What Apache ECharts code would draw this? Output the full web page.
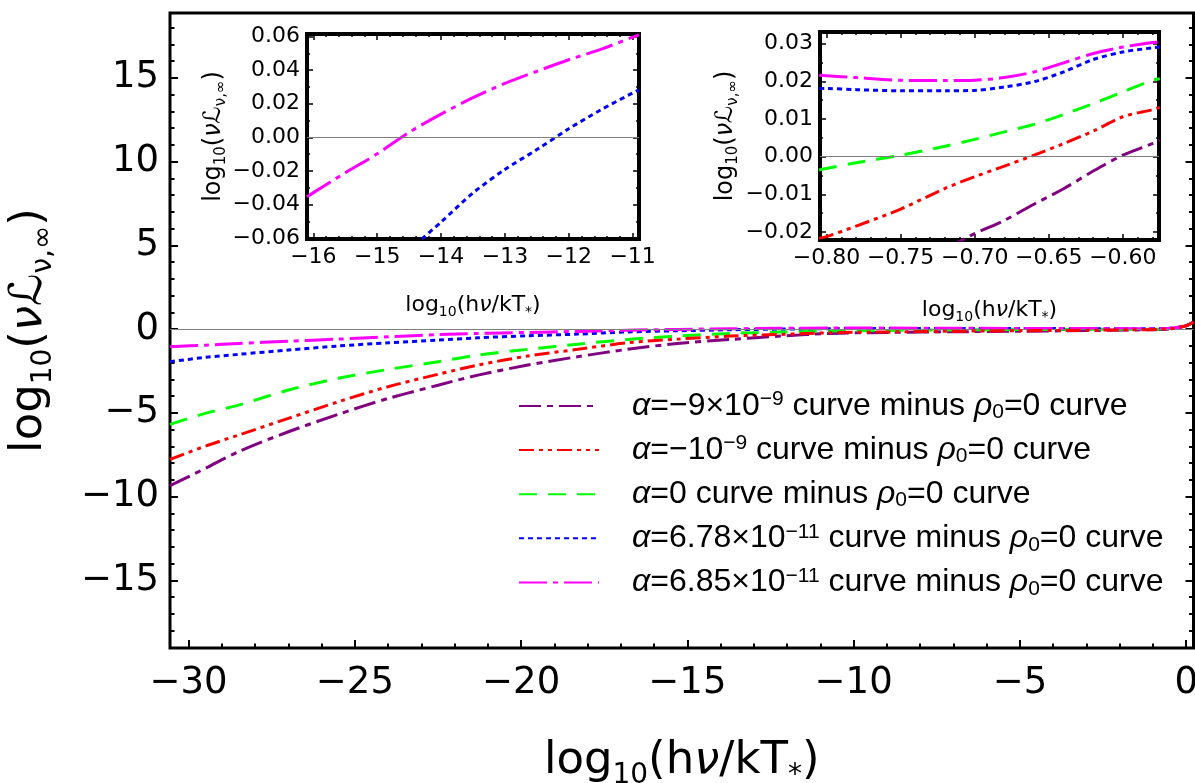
<!DOCTYPE html>
<html><head><meta charset="utf-8">
<script src="https://cdn.jsdelivr.net/npm/echarts@6/dist/echarts.min.js"></script>
<style>html,body{margin:0;padding:0;background:#fff;}#c{width:1195px;height:783px;}</style>
</head><body><div id="c"></div>
<script>
// ---------- main plot data ----------
const MAIN_X = [-30.56, -29.5, -28.5, -27, -25.5, -24, -22.5, -21.3, -19.8, -18.3, -16.8, -15.3, -13.7, -12.2, -10.7, -9, -7, -5, -3, -1.5, -0.8, -0.4, 0, 0.22];
const MAIN_PURPLE  = [-9.35, -8.32, -7.32, -6.13, -5.09, -4.14, -3.35, -2.75, -2.15, -1.65, -1.21, -0.86, -0.62, -0.42, -0.26, -0.2, -0.16, -0.13, -0.09, -0.05, -0.03, 0.04, 0.2, 0.42];
const MAIN_RED     = [-7.78, -6.99, -6.33, -5.33, -4.34, -3.44, -2.7, -2.15, -1.61, -1.21, -0.82, -0.6, -0.42, -0.32, -0.22, -0.17, -0.13, -0.1, -0.07, -0.04, -0.02, 0.04, 0.2, 0.42];
const MAIN_GREEN   = [-5.69, -5.03, -4.54, -3.64, -2.94, -2.41, -1.95, -1.55, -1.21, -0.9, -0.62, -0.42, -0.26, -0.18, -0.12, -0.08, -0.05, -0.03, -0.015, -0.005, -0.003, 0.05, 0.2, 0.42];
const MAIN_BLUE    = [-1.95, -1.69, -1.51, -1.25, -1.01, -0.82, -0.66, -0.52, -0.4, -0.3, -0.17, -0.1, -0.04, 0.0, 0.025, 0.04, 0.04, 0.03, 0.025, 0.02, 0.018, 0.06, 0.2, 0.42];
const MAIN_MAGENTA = [-1.05, -0.96, -0.86, -0.72, -0.6, -0.46, -0.33, -0.26, -0.2, -0.14, -0.07, -0.018, 0.02, 0.043, 0.065, 0.06, 0.05, 0.04, 0.03, 0.025, 0.021, 0.06, 0.2, 0.42];

// ---------- inset 1 data ----------
const IN1_MAG_X = [-16.1, -16, -15.5, -15, -14.5, -14, -13.5, -13, -12.5, -12, -11.5, -11, -10.9];
const IN1_MAGENTA = [-0.0354, -0.0329, -0.0211, -0.0098, 0.003, 0.0138, 0.0236, 0.0321, 0.0393, 0.0462, 0.0523, 0.0596, 0.061];
const IN1_BLUE_X = [-14.3, -14, -13.5, -13, -12.5, -12, -11.5, -11, -10.9];
const IN1_BLUE = [-0.0605, -0.0504, -0.0331, -0.0191, -0.0073, 0.0051, 0.0163, 0.0264, 0.0283];

// ---------- inset 2 data ----------
const IN2_X = [-0.805, -0.8, -0.78, -0.75, -0.72, -0.7, -0.68, -0.66, -0.64, -0.62, -0.6, -0.58, -0.575];
const IN2_MAGENTA = [0.0216, 0.0215, 0.021, 0.0203, 0.0202, 0.0203, 0.021, 0.0225, 0.0249, 0.0274, 0.0291, 0.0303, 0.0304];
const IN2_BLUE    = [0.0181, 0.0181, 0.0178, 0.0175, 0.0175, 0.0176, 0.0185, 0.0199, 0.0225, 0.0258, 0.0278, 0.0289, 0.0291];
const IN2_GREEN   = [-0.0035, -0.0031, -0.0016, 0.0004, 0.0028, 0.0046, 0.0066, 0.0086, 0.0112, 0.0141, 0.0172, 0.0203, 0.0207];
const IN2_RED     = [-0.0216, -0.0212, -0.0184, -0.0139, -0.0084, -0.0053, -0.0025, 0.0004, 0.0035, 0.0068, 0.0106, 0.0125, 0.0131];
const IN2_PURPLE  = [null, null, null, null, -0.0245, -0.0204, -0.0169, -0.0126, -0.0085, -0.0038, 0.0004, 0.0035, 0.0044];

// ---------- ticks ----------
const MAIN_X_TICKS = [-30, -25, -20, -15, -10, -5, 0];
const MAIN_Y_TICKS = [-15, -10, -5, 0, 5, 10, 15];
const IN1_X_TICKS = [-16, -15, -14, -13, -12, -11];
const IN1_Y_TICKS = [-0.06, -0.04, -0.02, 0, 0.02, 0.04, 0.06];
const IN2_X_TICKS = [-0.8, -0.75, -0.7, -0.65, -0.6];
const IN2_Y_TICKS = [-0.02, -0.01, 0, 0.01, 0.02, 0.03];

// ---------- legend ----------
const SERIES_KEYS = ['purple', 'red', 'green', 'blue', 'magenta'];
const LEGEND_LABELS = [
  '{i|α}=\u22129×10{p|\u22129} curve minus {i|ρ}{b|0}=0 curve',
  '{i|α}=\u221210{p|\u22129} curve minus {i|ρ}{b|0}=0 curve',
  '{i|α}=0 curve minus {i|ρ}{b|0}=0 curve',
  '{i|α}=6.78×10{p|\u221211} curve minus {i|ρ}{b|0}=0 curve',
  '{i|α}=6.85×10{p|\u221211} curve minus {i|ρ}{b|0}=0 curve'
];

const COLORS = {purple:'#800080', red:'#ff0000', green:'#00ff00', blue:'#0000ff', magenta:'#ff00ff'};
const DASHES = {purple:[22,6,6,6], red:[15,5,4,5,4,5], green:[18,11], blue:[5,4], magenta:[28,6,5,6]};

function rangeVals(a, b, step) {
  const out = []; const n = Math.round((b - a) / step);
  for (let i = 0; i <= n; i++) out.push(+(a + i * step).toFixed(6));
  return out;
}
function fmt(v, d) {
  const s = d == null ? String(Math.abs(v)) : Math.abs(v).toFixed(d);
  return (v < -1e-12 ? '\u2212' : '') + s;
}

const TICKFONT = 'DejaVu Sans';
const xAxes = [], yAxes = [];

function axisBase(grid, min, max, pos, vals, len, w) {
  return {
    gridIndex: grid, type: 'value', min: min, max: max, position: pos,
    axisLine: {show: false, onZero: false}, splitLine: {show: false},
    axisTick: {show: true, inside: true, length: len, customValues: vals, lineStyle: {color: '#000', width: w}},
    axisLabel: {show: false}
  };
}

function buildFrame(grid, xr, yr, xMaj, xMin, yMaj, yMin, opts) {
  const L = opts.majLen, l = opts.minLen, w = opts.tickW;
  const xl = axisBase(grid, xr[0], xr[1], 'bottom', xMaj, L, w);
  xl.axisLabel = {show: true, customValues: xMaj, fontFamily: TICKFONT, fontSize: opts.fs, color: '#000', margin: opts.xMargin,
    formatter: v => fmt(v, opts.xd)};
  xl.name = opts.xName; xl.nameLocation = 'middle'; xl.nameGap = opts.xNameGap;
  xl.nameTextStyle = opts.nameStyle;
  const xIdx = xAxes.length; xAxes.push(xl);
  xAxes.push(axisBase(grid, xr[0], xr[1], 'bottom', xMin, l, w));
  if (opts.top) {
    xAxes.push(axisBase(grid, xr[0], xr[1], 'top', xMaj, L, w));
    xAxes.push(axisBase(grid, xr[0], xr[1], 'top', xMin, l, w));
  }
  const yl = axisBase(grid, yr[0], yr[1], 'left', yMaj, L, w);
  yl.axisLabel = {show: true, customValues: yMaj, fontFamily: TICKFONT, fontSize: opts.fs, color: '#000', margin: opts.yMargin,
    formatter: v => fmt(v, opts.yd)};
  yl.name = opts.yName; yl.nameLocation = 'middle'; yl.nameGap = opts.yNameGap; yl.nameRotate = 90;
  yl.nameTextStyle = opts.yNameStyle || opts.nameStyle;
  const yIdx = yAxes.length; yAxes.push(yl);
  yAxes.push(axisBase(grid, yr[0], yr[1], 'left', yMin, l, w));
  yAxes.push(axisBase(grid, yr[0], yr[1], 'right', yMaj, L, w));
  yAxes.push(axisBase(grid, yr[0], yr[1], 'right', yMin, l, w));
  return {xIdx, yIdx};
}

function nameStyle(fs, sfs, lh) {
  return {fontFamily: TICKFONT, fontSize: fs, color: '#000', lineHeight: lh,
    rich: {
      s: {fontFamily: TICKFONT, fontSize: sfs, lineHeight: lh, verticalAlign: 'bottom', color: '#000'},
      i: {fontFamily: TICKFONT, fontSize: fs, fontStyle: 'italic', lineHeight: lh, color: '#000'}
    }};
}
const X_NAME = 'log{s|10}(h{i|ν}/kT{s|*})';
const Y_NAME = 'log{s|10}({i|ν}ℒ{s|ν,∞})';

const mainAx = buildFrame(0, [-30.56, 0.22], [-19.04, 18.87], MAIN_X_TICKS, rangeVals(-30, 0, 1),
  MAIN_Y_TICKS, rangeVals(-19, 18, 1),
  {majLen: 8, minLen: 4.5, tickW: 2, fs: 37, xMargin: 17, yMargin: 11, xd: null, yd: null,
   xName: X_NAME, xNameGap: 84, yName: Y_NAME, yNameGap: 112, nameStyle: nameStyle(45, 28, 58), top: false});
const in1Ax = buildFrame(1, [-16.1, -10.9], [-0.0605, 0.0615], IN1_X_TICKS, rangeVals(-16, -11, 0.2),
  IN1_Y_TICKS, rangeVals(-0.06, 0.06, 0.01),
  {majLen: 6, minLen: 3, tickW: 1.5, fs: 22, xMargin: 7, yMargin: 7, xd: null, yd: 2,
   xName: X_NAME, xNameGap: 52, yName: Y_NAME, yNameGap: 76, nameStyle: nameStyle(22, 14, 28),
   yNameStyle: nameStyle(24, 15, 30), top: true});
const in2Ax = buildFrame(2, [-0.8044, -0.5756], [-0.0221, 0.0331], IN2_X_TICKS, rangeVals(-0.8, -0.58, 0.01),
  IN2_Y_TICKS, rangeVals(-0.02, 0.03, 0.005),
  {majLen: 6, minLen: 3, tickW: 1.5, fs: 22, xMargin: 7, yMargin: 7, xd: 2, yd: 2,
   xName: X_NAME, xNameGap: 56, yName: Y_NAME, yNameGap: 79, nameStyle: nameStyle(22, 14, 28),
   yNameStyle: nameStyle(24, 15, 30), top: true});

function lineSeries(name, key, xs, ys, ax, extra) {
  return Object.assign({
    name: name, type: 'line', xAxisIndex: ax.xIdx, yAxisIndex: ax.yIdx,
    data: xs.map((x, i) => [x, ys[i]]), showSymbol: false, symbol: 'none', smooth: 0.3,
    clip: true, connectNulls: false,
    lineStyle: {color: COLORS[key], width: 3, type: DASHES[key], cap: 'butt'},
    itemStyle: {color: COLORS[key]}, z: 3
  }, extra || {});
}
const zeroLine = {silent: true, symbol: 'none', label: {show: false},
  lineStyle: {color: '#7f7f7f', width: 1, type: 'solid'}, data: [{yAxis: 0}]};

const MAIN_VALUES = {purple: MAIN_PURPLE, red: MAIN_RED, green: MAIN_GREEN, blue: MAIN_BLUE, magenta: MAIN_MAGENTA};
const series = [];
SERIES_KEYS.forEach((k, i) => {
  series.push(lineSeries(k, k, MAIN_X, MAIN_VALUES[k], mainAx,
    Object.assign({z: k === 'red' ? 6 : 3 + i * 0.1}, i === 0 ? {markLine: zeroLine} : {})));
});
series.push(lineSeries('in1m', 'magenta', IN1_MAG_X, IN1_MAGENTA, in1Ax, {markLine: zeroLine}));
series.push(lineSeries('in1b', 'blue', IN1_BLUE_X, IN1_BLUE, in1Ax));
const IN2_VALUES = {purple: IN2_PURPLE, red: IN2_RED, green: IN2_GREEN, blue: IN2_BLUE, magenta: IN2_MAGENTA};
SERIES_KEYS.forEach((k, i) => {
  series.push(lineSeries('in2' + k, k, IN2_X, IN2_VALUES[k], in2Ax, i === 0 ? {markLine: zeroLine} : {}));
});

const LEGFONT = 'Liberation Sans';
const option = {
  animation: false,
  backgroundColor: '#fff',
  grid: [
    {left: 170, top: 13, width: 1023.5, height: 635, show: true, borderColor: '#000', borderWidth: 3, backgroundColor: 'transparent', containLabel: false, outerBoundsMode: 'none'},
    {left: 307, top: 34, width: 332, height: 205, show: true, borderColor: '#000', borderWidth: 4, backgroundColor: '#fff', outerBoundsMode: 'none'},
    {left: 820, top: 32, width: 339, height: 208, show: true, borderColor: '#000', borderWidth: 4, backgroundColor: '#fff', outerBoundsMode: 'none'}
  ],
  xAxis: xAxes,
  yAxis: yAxes,
  legend: {
    data: SERIES_KEYS, orient: 'vertical', left: 513, top: 384, itemWidth: 80, itemHeight: 14, itemGap: 10.1,
    selectedMode: false,
    itemStyle: {opacity: 0},
    formatter: name => LEGEND_LABELS[SERIES_KEYS.indexOf(name)],
    textStyle: {fontFamily: LEGFONT, fontSize: 32, color: '#000', lineHeight: 34, padding: [0, 0, 0, 28],
      rich: {
        i: {fontFamily: LEGFONT, fontSize: 32, fontStyle: 'italic', color: '#000', lineHeight: 34},
        p: {fontFamily: LEGFONT, fontSize: 21, color: '#000', lineHeight: 34, verticalAlign: 'top'},
        b: {fontFamily: LEGFONT, fontSize: 21, color: '#000', lineHeight: 34, verticalAlign: 'bottom'}
      }}
  },
  series: series
};
const chart = echarts.init(document.getElementById('c'), null, {renderer: 'canvas'});
chart.setOption(option);
</script></body></html>
